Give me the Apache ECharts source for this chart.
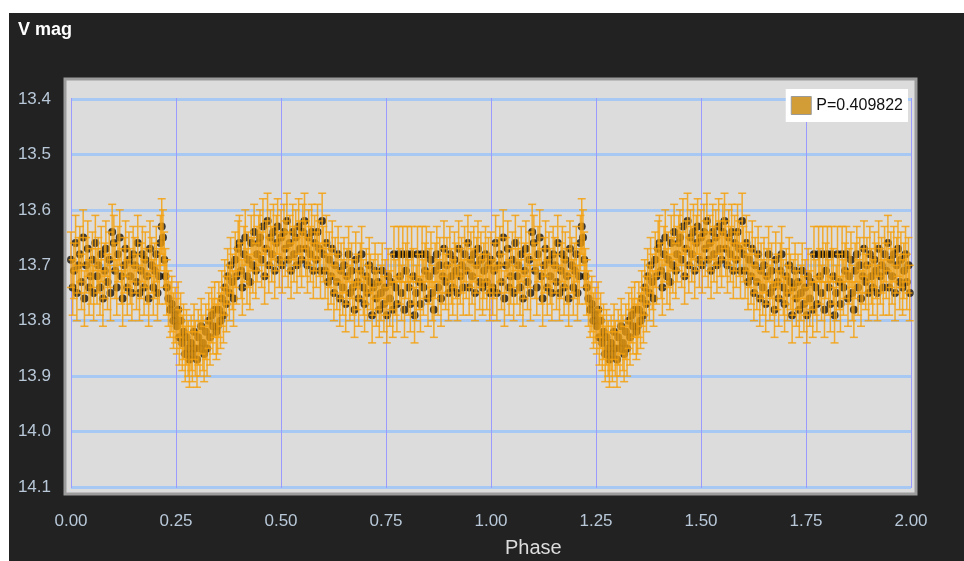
<!DOCTYPE html>
<html><head><meta charset="utf-8">
<script src="https://cdn.jsdelivr.net/npm/echarts@6/dist/echarts.min.js"></script>
<style>html,body{margin:0;padding:0;background:#fff}#c{width:964px;height:561px}</style>
</head><body><div id="c"></div>
<script>
// Phase-folded light curve, one cycle (shown twice: phase 0-1 and 1-2)
const phases = [
0.000,0.004,0.007,0.011,0.014,0.018,0.021,0.025,0.029,0.032,0.036,0.040,0.043,0.047,
0.051,0.054,0.058,0.062,0.065,0.069,0.072,0.076,0.080,0.083,0.087,0.091,0.094,0.098,
0.102,0.105,0.109,0.112,0.116,0.120,0.123,0.127,0.130,0.134,0.138,0.141,0.145,0.148,
0.152,0.156,0.159,0.163,0.167,0.170,0.174,0.177,0.181,0.185,0.188,0.192,0.196,0.199,
0.203,0.206,0.210,0.213,0.216,0.219,0.222,0.225,0.228,0.232,0.236,0.240,0.244,0.248,
0.252,0.255,0.258,0.261,0.265,0.268,0.272,0.275,0.279,0.282,0.286,0.289,0.293,0.296,
0.300,0.303,0.307,0.310,0.314,0.317,0.321,0.324,0.328,0.331,0.335,0.338,0.342,0.346,
0.349,0.352,0.356,0.359,0.363,0.366,0.370,0.373,0.377,0.380,0.384,0.387,0.391,0.394,0.398,
0.401,0.405,0.408,0.412,0.415,0.419,0.422,0.426,0.429,0.433,0.436,0.440,0.443,0.447,
0.450,0.454,0.457,0.461,0.464,0.468,0.471,0.475,0.478,0.482,0.485,0.489,0.492,0.496,
0.500,0.503,0.507,0.510,0.514,0.517,0.521,0.524,0.528,0.531,0.535,0.538,0.542,0.545,
0.549,0.552,0.556,0.559,0.563,0.566,0.570,0.573,0.577,0.580,0.584,0.587,0.591,0.594,0.598,
0.601,0.605,0.608,0.612,0.615,0.619,0.622,0.626,0.629,0.633,0.636,0.640,0.643,0.647,
0.650,0.654,0.657,0.661,0.664,0.668,0.671,0.675,0.678,0.682,0.685,0.689,0.692,0.696,
0.699,0.703,0.706,0.710,0.713,0.717,0.720,0.724,0.727,0.731,0.734,0.738,0.741,0.745,
0.748,0.752,0.755,0.759,0.762,0.766,0.769,0.773,0.776,0.780,0.783,0.787,0.790,0.794,
0.797,0.801,0.804,0.808,0.811,0.815,0.818,0.822,0.825,0.829,0.832,0.836,0.839,0.843,
0.846,0.850,0.853,0.857,0.860,0.864,0.867,0.871,0.874,0.878,0.881,0.885,0.888,0.892,
0.895,0.899,0.902,0.906,0.909,0.913,0.916,0.920,0.923,0.927,0.930,0.934,0.937,0.941,0.945,0.948,
0.952,0.955,0.959,0.962,0.966,0.969,0.973,0.976,0.980,0.983,0.987,0.990,0.994,0.997
];
const mags = [
13.69,13.74,13.71,13.66,13.75,13.70,13.68,13.73,13.65,13.76,13.70,13.67,13.74,13.72,
13.69,13.75,13.66,13.72,13.70,13.74,13.68,13.76,13.71,13.67,13.73,13.69,13.75,13.64,
13.66,13.71,13.74,13.68,13.65,13.72,13.76,13.70,13.67,13.74,13.69,13.72,13.75,13.68,
13.70,13.73,13.66,13.75,13.71,13.68,13.74,13.69,13.72,13.76,13.67,13.70,13.74,13.71,
13.68,13.75,13.72,13.66,13.63,13.65,13.69,13.72,13.74,13.76,13.78,13.77,13.80,13.79,
13.81,13.78,13.83,13.80,13.84,13.82,13.86,13.83,13.85,13.87,13.84,13.86,13.82,13.85,
13.87,13.83,13.85,13.81,13.84,13.86,13.82,13.85,13.80,13.83,13.79,13.81,13.78,13.82,
13.81,13.78,13.80,13.76,13.79,13.74,13.77,13.72,13.75,13.70,13.73,13.76,13.69,13.72,13.67,
13.66,13.71,13.74,13.68,13.65,13.72,13.69,13.73,13.66,13.70,13.64,13.71,13.68,13.66,
13.65,13.69,13.63,13.72,13.67,13.62,13.70,13.65,13.68,13.64,13.71,13.66,13.63,13.69,
13.65,13.70,13.64,13.67,13.62,13.69,13.66,13.71,13.64,13.68,13.65,13.70,13.63,13.67,
13.69,13.64,13.62,13.67,13.70,13.65,13.68,13.64,13.71,13.66,13.69,13.64,13.67,13.71,13.62,
13.68,13.71,13.66,13.73,13.69,13.72,13.67,13.75,13.70,13.73,13.68,13.76,13.71,13.74,
13.70,13.77,13.72,13.68,13.75,13.71,13.74,13.78,13.69,13.73,13.76,13.71,13.68,13.74,
13.77,13.72,13.75,13.70,13.73,13.79,13.74,13.71,13.76,13.73,13.78,13.75,13.71,13.77,
13.74,13.79,13.72,13.76,13.73,13.78,13.68,13.74,13.77,13.68,13.72,13.75,13.68,13.78,
13.71,13.68,13.74,13.77,13.68,13.72,13.79,13.75,13.68,13.73,13.77,13.68,13.74,13.71,
13.68,13.76,13.72,13.69,13.75,13.78,13.71,13.68,13.74,13.70,13.76,13.72,13.67,13.73,
13.70,13.75,13.68,13.72,13.74,13.69,13.71,13.75,13.67,13.72,13.70,13.74,13.68,13.71,13.66,13.74,
13.69,13.72,13.68,13.75,13.70,13.67,13.73,13.69,13.74,13.71,13.68,13.73,13.70,13.75
];
const magError = 0.05;
const periodLabel = 'P=0.409822';
const xMin = 0, xMax = 2, xStep = 0.25;
const yMin = 13.4, yMax = 14.1, yStep = 0.1;
const xGridTicks = [0, 0.25, 0.5, 0.75, 1.0, 1.25, 1.5, 1.75, 2.0];

const points = [];
for (let cycle = 0; cycle < 2; cycle++) {
  phases.forEach((p, i) => points.push([p + cycle, mags[i], magError]));
}

const numFont = "'Liberation Sans',Arial,sans-serif";
const chart = echarts.init(document.getElementById('c'), null, {renderer: 'canvas'});
chart.setOption({
  animation: false,
  backgroundColor: '#ffffff',
  graphic: [
    {type: 'rect', z: -100, shape: {x: 9, y: 13, width: 955, height: 548}, style: {fill: '#222222'}},
    {type: 'rect', z: -90, shape: {x: 65, y: 79, width: 851, height: 415}, style: {fill: '#dcdcdc', stroke: '#9c9c9c', lineWidth: 3}},
    {type: 'text', z: 10, left: 18, top: 21, style: {text: 'V mag', fill: '#ffffff', font: "bold 18px 'Liberation Sans',Arial,sans-serif"}},
    {type: 'text', z: 10, left: 505, top: 538, style: {text: 'Phase', fill: '#dcdcdc', font: "20px 'Liberation Sans',Arial,sans-serif"}}
  ],
  grid: {left: 71, right: 53, top: 99, bottom: 74},
  legend: {
    data: [{name: periodLabel, itemStyle: {color: '#d29c36', borderColor: '#9a9a9a', borderWidth: 1}}],
    right: 56, top: 89, icon: 'rect', itemWidth: 20, itemHeight: 18,
    backgroundColor: '#ffffff', padding: [7, 5, 7, 5], selectedMode: false,
    textStyle: {color: '#111', fontSize: 16, fontFamily: numFont}
  },
  xAxis: {
    type: 'value', min: xMin, max: xMax, interval: xStep,
    axisLine: {show: false}, axisTick: {show: false},
    splitLine: {show: false},
    axisLabel: {color: '#b8c8d8', fontSize: 17, fontFamily: numFont, margin: 26, formatter: v => v.toFixed(2)}
  },
  yAxis: {
    type: 'value', inverse: true, min: yMin, max: yMax, interval: yStep,
    axisLine: {show: false}, axisTick: {show: false},
    splitLine: {show: true, lineStyle: {color: '#a6c8f2', width: 3}},
    axisLabel: {color: '#b8c8d8', fontSize: 17, fontFamily: numFont, margin: 20, formatter: v => v.toFixed(1)}
  },
  series: [
    {
      name: 'xgrid', type: 'custom', z: 1, silent: true,
      data: xGridTicks.map(v => [v]),
      encode: {x: 0},
      renderItem: function (params, api) {
        const a = api.coord([api.value(0), yMin]);
        const b = api.coord([api.value(0), yMax]);
        const x = Math.round(a[0]) + 0.5;
        return {type: 'line', shape: {x1: x, y1: a[1] - 1, x2: x, y2: b[1] + 1},
          style: {stroke: '#9a9aff', lineWidth: 1}};
      }
    },
    {
      name: 'points', type: 'scatter', z: 2, data: points,
      symbol: 'circle', symbolSize: 8, itemStyle: {color: '#140f06'}
    },
    {
      name: periodLabel, type: 'custom', z: 3, data: points,
      itemStyle: {color: '#d29c36'},
      encode: {x: 0, y: 1},
      renderItem: function (params, api) {
        const x = api.value(0), y = api.value(1), e = api.value(2);
        const top = api.coord([x, y - e]);
        const bot = api.coord([x, y + e]);
        const hw = 4;
        const style = {stroke: '#f5a10e', lineWidth: 1.5, opacity: 0.85};
        return {type: 'group', children: [
          {type: 'line', shape: {x1: top[0], y1: top[1], x2: bot[0], y2: bot[1]}, style: style},
          {type: 'line', shape: {x1: top[0] - hw, y1: top[1], x2: top[0] + hw, y2: top[1]}, style: style},
          {type: 'line', shape: {x1: bot[0] - hw, y1: bot[1], x2: bot[0] + hw, y2: bot[1]}, style: style}
        ]};
      }
    }
  ]
});
</script></body></html>
